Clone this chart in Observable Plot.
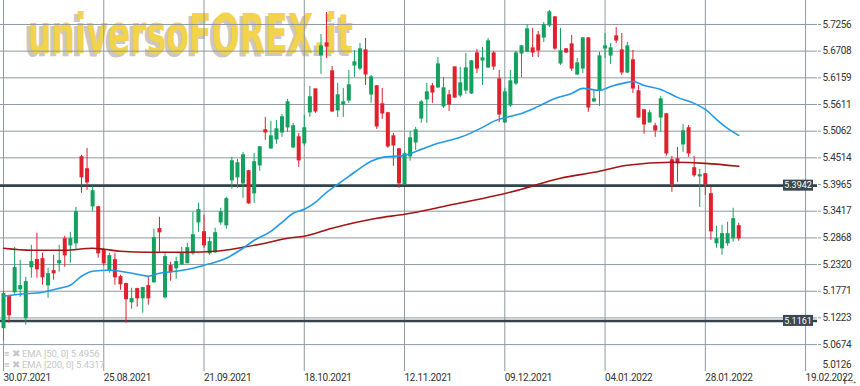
<!DOCTYPE html>
<html><head><meta charset="utf-8">
<script src="https://cdn.jsdelivr.net/npm/d3@7"></script>
<script src="https://cdn.jsdelivr.net/npm/@observablehq/plot@0.6"></script>
<style>
body{margin:0;background:#fff;}
#wrap{position:relative;width:860px;height:386px;overflow:hidden;}
#legend{position:absolute;left:4px;top:349px;font:9.5px Roboto,sans-serif;color:#c6c6c6;line-height:10.5px;white-space:nowrap;letter-spacing:-0.1px}
#legend .ic{display:inline-block;width:8px;}
</style></head><body><div id="wrap"><div id="legend"></div></div>
<script>
// Candle index 0 = 30.07.2021, one candle per trading day
const open = [
5.1012,5.1648,5.1751,5.1813,5.1218,5.2265,5.2409,5.2429,5.1895,5.2183,
5.2347,5.2840,5.2717,5.2758,5.4524,5.4278,5.3518,5.3497,5.2614,5.2203,
5.2409,5.2059,5.1916,5.1546,5.1813,5.1628,5.1875,5.1957,5.3046,5.1648,
5.2286,5.2245,5.2327,5.2347,5.2552,5.3189,5.2984,5.2552,5.2573,5.3189,
5.3128,5.4052,5.4114,5.3990,5.4237,5.3785,5.4360,5.5079,5.4709,5.4894,
5.5038,5.5141,5.4729,5.4935,5.4812,5.5449,5.5921,5.6619,5.6866,5.6291,
5.5490,5.5613,5.5695,5.6414,5.6352,5.6722,5.5818,5.5983,5.5613,5.5428,
5.4955,5.4688,5.3970,5.4545,5.4832,5.5325,5.5716,5.5983,5.5962,5.5572,
5.5798,5.6373,5.5798,5.5900,5.5839,5.6660,5.6517,5.6373,5.6660,5.6126,
5.5243,5.5592,5.6044,5.6660,5.6701,5.6763,5.7030,5.6989,5.7236,5.7400,
5.6455,5.6743,5.6845,5.6229,5.6352,5.6968,5.5675,5.5900,5.6763,5.6619,
5.7010,5.6722,5.6270,5.6517,5.5880,5.5490,5.5243,5.5161,5.5346,5.5407,
5.4463,5.4483,5.4791,5.5120,5.4299,5.4134,5.4175,5.3764,5.2758,5.2655,
5.2758,5.2860,5.3107];
const high = [
5.1771,5.1669,5.2675,5.2409,5.2059,5.2717,5.2963,5.2552,5.2245,5.2511,
5.2717,5.2902,5.2984,5.3497,5.4565,5.4709,5.3929,5.3518,5.2655,5.2552,
5.2552,5.2100,5.1936,5.1834,5.1834,5.1854,5.2080,5.3046,5.3292,5.2573,
5.2368,5.2470,5.2675,5.2758,5.3395,5.3579,5.3333,5.2881,5.3066,5.3477,
5.3703,5.4524,5.4483,5.4627,5.4257,5.4606,5.4750,5.5346,5.5264,5.5284,
5.5407,5.5716,5.5223,5.5017,5.5387,5.5983,5.5921,5.7051,5.7503,5.6393,
5.6044,5.5942,5.6311,5.6722,5.6866,5.6968,5.6208,5.6003,5.5942,5.5449,
5.5017,5.4709,5.4627,5.5058,5.5141,5.5695,5.6044,5.6044,5.6578,5.6167,
5.5900,5.6373,5.6373,5.6660,5.6517,5.6743,5.6784,5.6968,5.6701,5.6311,
5.5942,5.6311,5.6701,5.6825,5.7256,5.7174,5.7112,5.7297,5.7544,5.7420,
5.7174,5.6763,5.7030,5.6558,5.6989,5.6989,5.5900,5.6681,5.7071,5.6866,
5.7194,5.7071,5.6886,5.6722,5.6003,5.5510,5.5490,5.5223,5.5777,5.5428,
5.4545,5.4730,5.5202,5.5182,5.4545,5.4278,5.4196,5.3908,5.3107,5.3128,
5.3189,5.3477,5.3169];
const low = [
5.0744,5.1114,5.1710,5.1648,5.1073,5.2039,5.2039,5.1895,5.1628,5.1998,
5.2162,5.2265,5.2347,5.2614,5.3785,5.3846,5.3415,5.2450,5.2286,5.2142,
5.1895,5.1792,5.1114,5.1402,5.1443,5.1320,5.1484,5.1936,5.2573,5.1608,
5.1978,5.2018,5.2306,5.2347,5.2511,5.2984,5.2655,5.2511,5.2552,5.3128,
5.3046,5.3867,5.3887,5.3682,5.3559,5.3579,5.4237,5.4873,5.4688,5.4791,
5.4935,5.5038,5.4709,5.4319,5.4750,5.5346,5.5428,5.6229,5.6558,5.5449,
5.5346,5.5346,5.5634,5.6167,5.6311,5.6003,5.5634,5.5099,5.5305,5.4709,
5.4340,5.3887,5.3949,5.4442,5.4668,5.5223,5.5223,5.5634,5.5942,5.5531,
5.5469,5.5736,5.5757,5.5818,5.5818,5.6249,5.6003,5.6352,5.6311,5.5243,
5.5223,5.5551,5.6003,5.6167,5.6681,5.6578,5.6578,5.6886,5.7194,5.6722,
5.6414,5.6660,5.6291,5.6208,5.6249,5.5449,5.5654,5.5572,5.6558,5.6434,
5.6866,5.6208,5.6249,5.5839,5.5325,5.4997,5.5223,5.4935,5.5038,5.4545,
5.3805,5.4011,5.4627,5.4524,5.4114,5.3497,5.3744,5.2819,5.2655,5.2511,
5.2696,5.2778,5.2799];
const close = [
5.1710,5.1279,5.2245,5.1875,5.1957,5.2368,5.2224,5.2059,5.2121,5.2142,
5.2388,5.2511,5.2840,5.3395,5.4114,5.4011,5.3826,5.2552,5.2347,5.2491,
5.2059,5.1916,5.1608,5.1608,5.1628,5.1834,5.1628,5.2861,5.2984,5.2470,
5.2162,5.2368,5.2552,5.2655,5.2922,5.3436,5.2717,5.2778,5.2963,5.3395,
5.3662,5.4442,5.4401,5.4565,5.3579,5.4422,5.4729,5.5038,5.4955,5.5099,
5.5346,5.5654,5.5161,5.4463,5.5120,5.5757,5.5469,5.6804,5.6804,5.5469,
5.5798,5.5654,5.6003,5.6476,5.6743,5.6229,5.6167,5.5161,5.5428,5.4750,
5.4771,5.3990,5.4586,5.4914,5.5079,5.5654,5.5859,5.5859,5.6434,5.5942,
5.5613,5.5757,5.6044,5.6352,5.6496,5.6352,5.6558,5.6907,5.6393,5.5407,
5.5859,5.6085,5.6660,5.6804,5.7153,5.6681,5.6722,5.7236,5.7503,5.6763,
5.6701,5.6681,5.6352,5.6455,5.6968,5.5551,5.5716,5.6599,5.6804,5.6763,
5.6927,5.6270,5.6804,5.5942,5.5346,5.5202,5.5428,5.5079,5.5716,5.4606,
5.3970,5.4401,5.5058,5.4606,5.4155,5.4155,5.3970,5.3004,5.2840,5.2943,
5.2943,5.3251,5.2860];

const ema50Idx = [0,3,7,10,12,14,16,19,22,24,26,28,31,34,36,38,40,43,45,48,50,52,54,56,58,60,62,64,66,68,70,72,75,78,82,86,88,91,93,96,99,102,104,107,109,112,113,115,118,121,124,126,128,130,132];
const ema50Val = [5.1669,5.1710,5.1751,5.1834,5.1895,5.2080,5.2183,5.2203,5.2162,5.2121,5.2080,5.2142,5.2183,5.2245,5.2306,5.2368,5.2450,5.2655,5.2819,5.3004,5.3189,5.3374,5.3456,5.3600,5.3805,5.3970,5.4134,5.4299,5.4442,5.4524,5.4545,5.4565,5.4688,5.4812,5.4935,5.5141,5.5264,5.5367,5.5428,5.5572,5.5736,5.5839,5.5942,5.5900,5.5983,5.6065,5.6085,5.6003,5.5921,5.5757,5.5634,5.5510,5.5305,5.5120,5.4976];
const ema200Idx = [0,5,11,16,18,21,26,30,33,38,43,47,51,54,59,67,72,80,87,93,96,100,106,112,120,126,132];
const ema200Val = [5.2655,5.2614,5.2614,5.2655,5.2635,5.2593,5.2573,5.2573,5.2573,5.2593,5.2675,5.2758,5.2861,5.2902,5.3066,5.3271,5.3354,5.3538,5.3703,5.3867,5.3970,5.4093,5.4216,5.4360,5.4422,5.4401,5.4340];

const xTickIdx = [0,18,36,54,72,90,108,126,144];
const xTickLabels = ["30.07.2021","25.08.2021","21.09.2021","18.10.2021","12.11.2021","09.12.2021","04.01.2022","28.01.2022","19.02.2022"];
const yTicks = [5.0674,5.1223,5.1771,5.2320,5.2868,5.3417,5.3965,5.4514,5.5062,5.5611,5.6159,5.6708,5.7256];
const yBottomTick = [5.0126];
const levels = [5.3942,5.1161];
const legendItems = ["EMA [50, 0] 5.4956","EMA [200, 0] 5.4317"];
const watermark = "universoFOREX.it";

const data = open.map((o,i)=>({i, o, h:high[i], l:low[i], c:close[i], up: close[i] >= o}));
const ema50 = ema50Idx.map((i,k)=>({i, v: ema50Val[k]}));
const ema200 = ema200Idx.map((i,k)=>({i, v: ema200Val[k]}));
const labelOf = new Map(xTickIdx.map((d,k)=>[d, xTickLabels[k]]));

const GREEN = "#14a05e", RED = "#e0202d", GRID = "#8f999f";
const FONT = `Roboto, sans-serif`;
const up = data.filter(d=>d.up), dn = data.filter(d=>!d.up);
const bodyOpts = {x:"i", y1:d=>Math.max(d.o,d.c), y2:d=>Math.min(d.o,d.c), strokeWidth:4, insetTop:-0.6, insetBottom:-0.6};
const wickOpts = {x:"i", y1:"h", y2:"l", strokeWidth:1};
const yAxisOpts = {tickFormat:d=>d.toFixed(4), anchor:"right", tickSize:3, tickPadding:2, stroke:GRID, fill:"#333"};

const chart = Plot.plot({
  width:860, height:386, marginLeft:0, marginRight:43, marginTop:0, marginBottom:15,
  style:{fontFamily:FONT, fontSize:"10px", color:"#333", background:"#fff", overflow:"visible", letterSpacing:"-0.3px"},
  x:{type:"linear", domain:[-0.54, 146.14]},
  y:{domain:[5.0121, 5.7749]},
  marks:[
    Plot.gridX(xTickIdx, {stroke:GRID, strokeOpacity:1}),
    Plot.gridY(yTicks, {stroke:GRID, strokeOpacity:1}),
    Plot.ruleY(levels, {stroke:"#33424c", strokeWidth:2.5}),
    Plot.ruleX(up, {...wickOpts, stroke:GREEN}),
    Plot.ruleX(dn, {...wickOpts, stroke:RED}),
    Plot.ruleX(up, {...bodyOpts, stroke:GREEN}),
    Plot.ruleX(dn, {...bodyOpts, stroke:RED}),
    Plot.line(ema200, {x:"i", y:"v", stroke:"#a51414", strokeWidth:1.6, curve:"monotone-x"}),
    Plot.line(ema50, {x:"i", y:"v", stroke:"#2299e6", strokeWidth:1.6, curve:"monotone-x"}),
    Plot.axisX({ticks:xTickIdx, tickFormat:d=>labelOf.get(d), tickSize:0, tickPadding:2, textAnchor:"start", anchor:"bottom", fill:"#333"}),
    Plot.axisY({ticks:yTicks, ...yAxisOpts}),
    Plot.axisY({ticks:yBottomTick, ...yAxisOpts, tickSize:0, tickPadding:5, dy:-6})
  ]
});
document.getElementById("wrap").prepend(chart);
chart.style.position = "absolute"; chart.style.left = "0"; chart.style.top = "0";

const svg = d3.select(chart);
const ys = chart.scale("y");
// watermark behind everything
const wm = svg.insert("g", ":first-child")
  .attr("font-family","'DejaVu Sans Condensed','DejaVu Sans',sans-serif")
  .attr("font-stretch","condensed").attr("font-weight","bold").attr("font-size",55)
  .attr("text-anchor","start").style("letter-spacing","0px");
wm.append("text").attr("x",24).attr("y",56).attr("textLength",326).attr("lengthAdjust","spacingAndGlyphs")
  .attr("text-anchor","start").attr("fill","#bdb3b1").attr("fill-opacity",0.75).text(watermark);
wm.append("text").attr("x",28).attr("y",53).attr("textLength",325).attr("lengthAdjust","spacingAndGlyphs")
  .attr("text-anchor","start").attr("fill","#f3d34c").text(watermark);

// level labels
const lg = svg.append("g").style("letter-spacing","0px");
levels.forEach(v=>{
  const y = ys.apply(v);
  lg.append("rect").attr("x",783).attr("y",y-5.5).attr("width",30).attr("height",11).attr("fill","#3a4650");
  lg.append("text").attr("x",798).attr("y",y).attr("dy","0.35em").attr("text-anchor","middle")
    .attr("fill","#fff").attr("font-size",9).attr("font-family",FONT).text(v.toFixed(4));
});

const leg = document.getElementById("legend");
leg.innerHTML = legendItems.map(t=>`<div><span class="ic">≡</span><span class="ic">✖</span><span style="margin-left:2px">${t}</span></div>`).join("");
</script>
</body></html>
